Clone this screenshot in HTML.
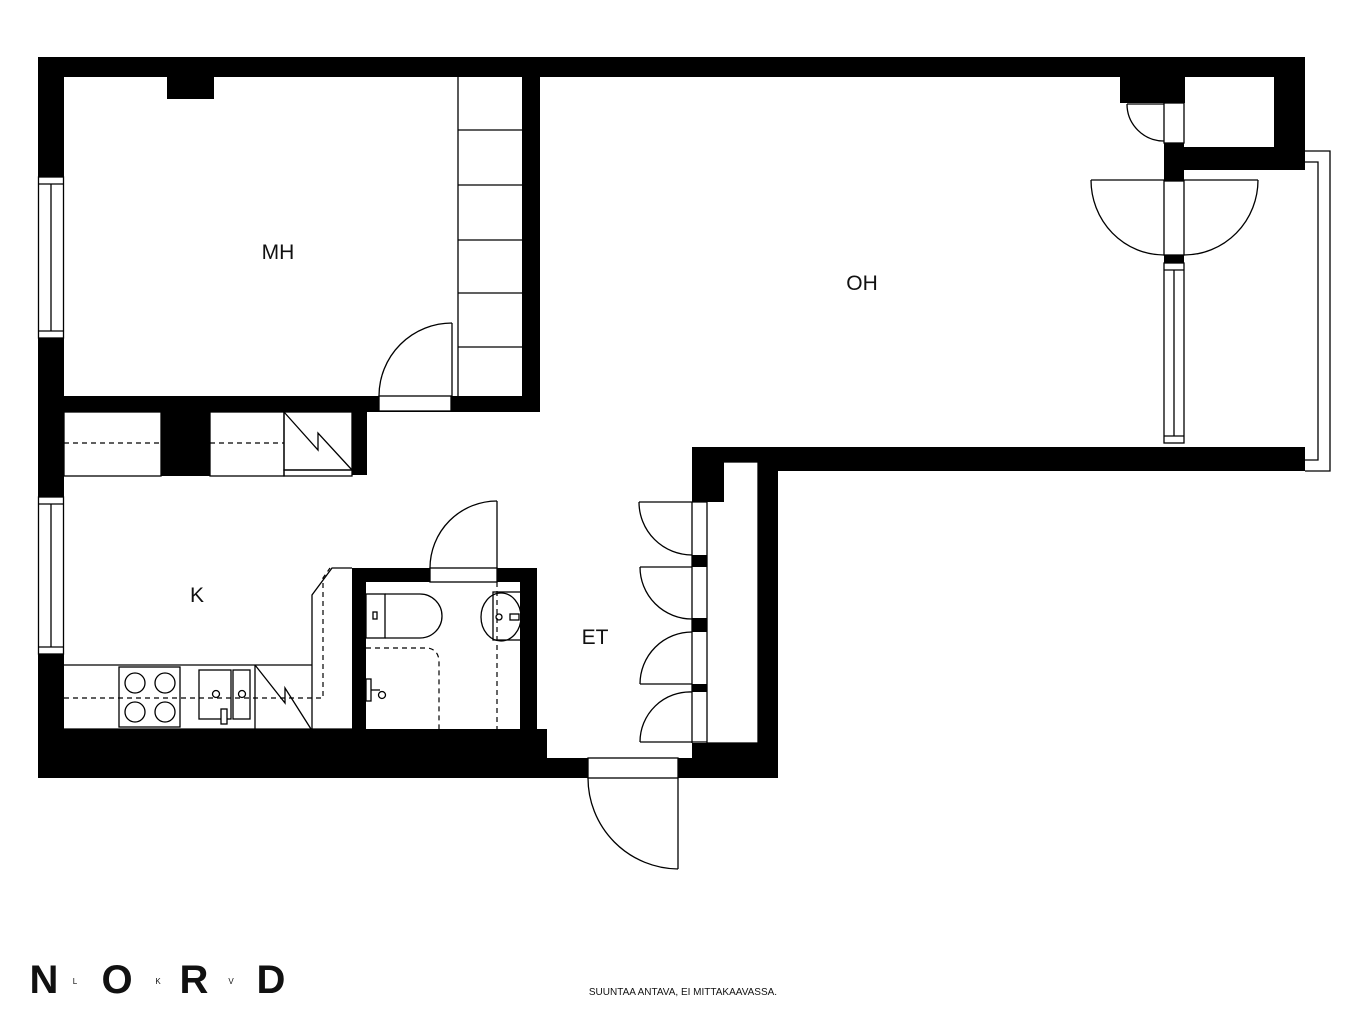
<!DOCTYPE html>
<html><head><meta charset="utf-8"><style>
html,body{margin:0;padding:0;background:#fff;}
svg{display:block;}
</style></head><body>
<svg width="1366" height="1025" viewBox="0 0 1366 1025" xmlns="http://www.w3.org/2000/svg">
<g fill="#000">
<!-- outer top wall -->
<rect x="38" y="57" width="1267" height="20"/>
<!-- left wall -->
<rect x="38" y="57" width="26" height="721"/>
<!-- chimney -->
<rect x="167" y="77" width="47" height="22"/>
<!-- MH right wall -->
<rect x="522" y="57" width="18" height="355"/>
<!-- MH bottom wall -->
<rect x="38" y="396" width="502" height="16"/>
<!-- storage pillar -->
<rect x="161" y="412" width="49" height="64"/>
<rect x="352" y="412" width="15" height="63"/>
<!-- bathroom walls -->
<rect x="352" y="568" width="185" height="14"/>
<rect x="352" y="568" width="14" height="161"/>
<rect x="520" y="568" width="17" height="190"/>
<rect x="520" y="729" width="27" height="29"/>
<!-- bottom wall -->
<rect x="38" y="729" width="320" height="49"/>
<rect x="352" y="729" width="195" height="49"/>
<rect x="38" y="758" width="550" height="20"/>
<rect x="678" y="758" width="100" height="20"/>
<rect x="692" y="743" width="86" height="35"/>
<!-- corridor right -->
<rect x="758" y="447" width="20" height="331"/>
<rect x="692" y="447" width="613" height="15"/>
<rect x="778" y="447" width="527" height="24"/>
<rect x="692" y="447" width="32" height="55"/>
<!-- closet separators -->
<rect x="692" y="555" width="15" height="12"/>
<rect x="692" y="618" width="15" height="14"/>
<rect x="692" y="684" width="15" height="8"/>
<!-- top right closet -->
<rect x="1274" y="57" width="31" height="113"/>
<rect x="1120" y="77" width="65" height="26"/>
<rect x="1164" y="147" width="141" height="23"/>
<rect x="1164" y="143" width="20" height="38"/>
<rect x="1164" y="255" width="20" height="8"/>
</g>
<!-- white window/door frames in walls -->
<g fill="#fff" stroke="#000" stroke-width="1.3">
<rect x="38.5" y="177" width="25" height="161"/>
<rect x="38.5" y="497" width="25" height="157"/>
<rect x="379" y="396" width="72" height="15"/>
<rect x="430" y="568" width="67" height="14"/>
<rect x="588" y="758" width="90" height="20"/>
<rect x="1164" y="103" width="20" height="40"/>
<rect x="1164" y="181" width="20" height="74"/>
<rect x="1164" y="263" width="20" height="180"/>
</g>
<g fill="none" stroke="#000" stroke-width="1.3">
<!-- window inner lines -->
<line x1="38" y1="184" x2="63" y2="184"/><line x1="38" y1="331" x2="63" y2="331"/><line x1="51" y1="184" x2="51" y2="331"/>
<line x1="38" y1="504" x2="63" y2="504"/><line x1="38" y1="647" x2="63" y2="647"/><line x1="51" y1="504" x2="51" y2="647"/>
<line x1="1164" y1="270" x2="1184" y2="270"/><line x1="1164" y1="436" x2="1184" y2="436"/><line x1="1174" y1="270" x2="1174" y2="436"/>
<!-- wardrobe -->
<line x1="458" y1="77" x2="458" y2="396"/>
<line x1="458" y1="130" x2="522" y2="130"/><line x1="458" y1="185" x2="522" y2="185"/><line x1="458" y1="240" x2="522" y2="240"/><line x1="458" y1="293" x2="522" y2="293"/><line x1="458" y1="347" x2="522" y2="347"/>
<!-- MH door -->
<line x1="452" y1="323" x2="452" y2="396"/>
<path d="M452 323 A73 73 0 0 0 379 396"/>
<!-- storage row -->
<rect x="64" y="412" width="97" height="64"/>
<rect x="210" y="412" width="74" height="64"/>
<rect x="284" y="412" width="68" height="58"/>
<rect x="284" y="470" width="68" height="6"/>
<path d="M284 412 L318 450 L318 433 L352 470"/>
<!-- kitchen counter -->
<path d="M64 665 L312 665 M312 729 L312 595 L332 568 L352 568"/>
<line x1="64" y1="729" x2="352" y2="729"/>
<rect x="119" y="667" width="61" height="60"/>
<circle cx="135" cy="683" r="10"/><circle cx="165" cy="683" r="10"/><circle cx="135" cy="712" r="10"/><circle cx="165" cy="712" r="10"/>
<rect x="199" y="670" width="32" height="49"/>
<rect x="233" y="670" width="17" height="49"/>
<circle cx="216" cy="694" r="3.5"/><circle cx="242" cy="694" r="3.5"/>
<rect x="221" y="709" width="6" height="15" fill="#fff"/>
<line x1="255" y1="665" x2="255" y2="729"/>
<path d="M255 665 L285 703 L285 688 L311 729"/>
<!-- bathroom -->
<rect x="366" y="594" width="19" height="44"/>
<rect x="373" y="612" width="4" height="7"/>
<path d="M385 594 L420 594 A22 22 0 0 1 420 638 L385 638"/>
<rect x="493" y="592" width="28" height="48"/>
<ellipse cx="501" cy="617" rx="20" ry="24"/>
<circle cx="499" cy="617" r="3"/>
<rect x="510" y="614" width="9" height="6"/>
<rect x="366" y="679" width="5" height="22"/>
<path d="M371 690 L380 690"/><circle cx="382" cy="695" r="3.5"/>
<!-- bathroom door -->
<line x1="497" y1="501" x2="497" y2="568"/>
<path d="M497 501 A67 67 0 0 0 430 568"/>
<!-- entrance door -->
<line x1="678" y1="778" x2="678" y2="869"/>
<path d="M588 778 A91 91 0 0 0 678 869"/>
<!-- closet -->
<rect x="707" y="462" width="51" height="281"/>
<line x1="692" y1="502" x2="692" y2="743"/>
<line x1="639" y1="502" x2="707" y2="502"/><path d="M639 502 A53 53 0 0 0 692 555"/>
<line x1="640" y1="567" x2="692" y2="567"/><path d="M640 567 A52 52 0 0 0 692 619"/>
<line x1="640" y1="684" x2="692" y2="684"/><path d="M640 684 A52 52 0 0 1 692 632"/>
<line x1="640" y1="742" x2="707" y2="742"/><path d="M640 742 A50 50 0 0 1 692 692"/>
<!-- top right doors -->
<line x1="1127" y1="104" x2="1164" y2="104"/><path d="M1127 104 A37 37 0 0 0 1164 141"/>
<line x1="1091" y1="180" x2="1258" y2="180"/>
<path d="M1091 180 A73 75 0 0 0 1164 255"/>
<path d="M1258 180 A74 75 0 0 1 1184 255"/>
<!-- balcony rail -->
<path d="M1305 151 L1330 151 L1330 471 L1305 471"/>
<path d="M1305 162 L1318 162 L1318 460 L1305 460"/>
</g>
<g fill="none" stroke="#000" stroke-width="1.2" stroke-dasharray="5,4">
<line x1="64" y1="443" x2="161" y2="443"/>
<line x1="210" y1="443" x2="284" y2="443"/>
<path d="M64 698 L323 698 L323 578 L330 568"/>
<path d="M366 648 L428 648 Q439 650 439 662 L439 729"/>
<line x1="497" y1="582" x2="497" y2="729"/>
</g>
<g font-family="Liberation Sans, sans-serif" font-size="21" fill="#111" text-anchor="middle">
<text x="278" y="259">MH</text>
<text x="862" y="290">OH</text>
<text x="197" y="602">K</text>
<text x="595" y="644">ET</text>
</g>
<g font-family="Liberation Sans, sans-serif" font-weight="bold" fill="#111" text-anchor="middle">
<text x="44" y="993" font-size="40">N</text>
<text x="75" y="984" font-size="8" font-weight="normal">L</text>
<text x="117" y="993" font-size="40">O</text>
<text x="158" y="984" font-size="8" font-weight="normal">K</text>
<text x="194" y="993" font-size="40">R</text>
<text x="231" y="984" font-size="8" font-weight="normal">V</text>
<text x="271" y="993" font-size="40">D</text>
</g>
<text x="683" y="995" font-family="Liberation Sans, sans-serif" font-size="10" fill="#111" text-anchor="middle">SUUNTAA ANTAVA, EI MITTAKAAVASSA.</text>
</svg>
</body></html>
